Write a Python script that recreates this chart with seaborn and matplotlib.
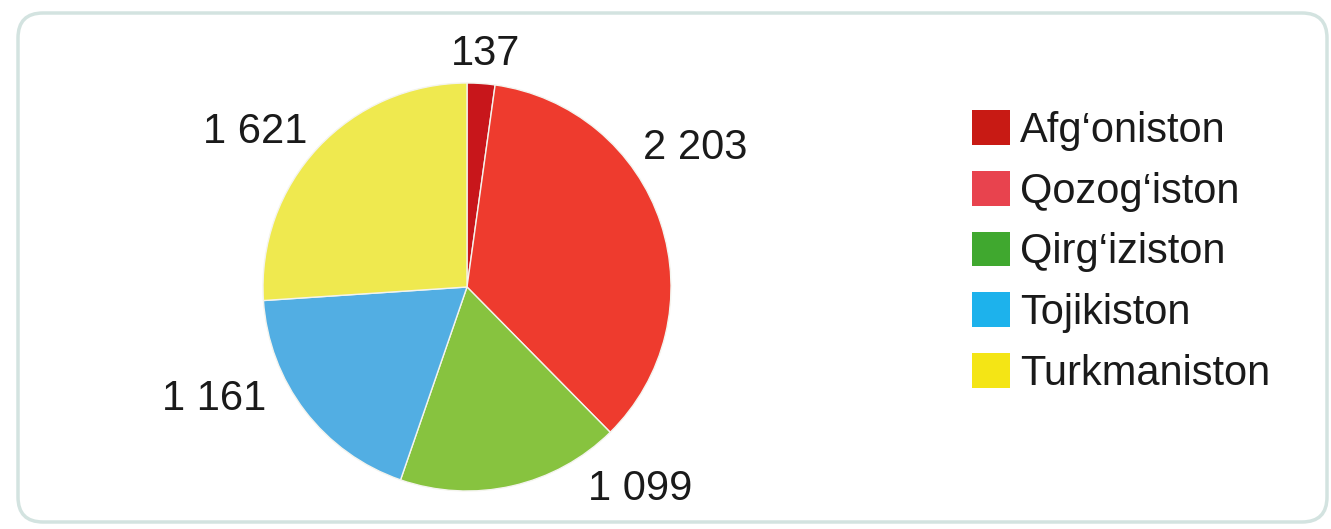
import matplotlib
matplotlib.use("Agg")
import matplotlib.pyplot as plt
import seaborn as sns
from matplotlib.patches import Patch, FancyBboxPatch

# dane wykresu
countries = ["Afg‘oniston", "Qozog‘iston", "Qirg‘iziston", "Tojikiston", "Turkmaniston"]
values = [137, 2203, 1099, 1161, 1621]

# kolory: wycinki i legenda (w oryginale lekko się różnią)
pie_colors = ["#C8161B", "#EE3B2E", "#87C33F", "#52AEE3", "#EFE94F"]
legend_colors = ["#C81A14", "#E8434E", "#40A82F", "#1DB2EC", "#F4E515"]

# położenie etykiet liczbowych (w jednostkach promienia)
label_xy = [(0.09, 1.14), (1.12, 0.68), (0.85, -0.99), (-1.24, -0.55), (-1.04, 0.76)]

sns.set_theme(style="white")
plt.rcParams["font.family"] = ["Liberation Sans", "DejaVu Sans"]

fig = plt.figure(figsize=(13.31, 5.29), dpi=100)

# ramka z zaokrąglonymi rogami (w calach)
frame = FancyBboxPatch((0.18, 0.07), 13.09, 5.09,
                       boxstyle="round,pad=0,rounding_size=0.25",
                       transform=fig.dpi_scale_trans, facecolor="white",
                       edgecolor="#d3e3e0", linewidth=2.5, zorder=-5)
fig.patches.append(frame)

cx, cy = 467 / 1331, 1 - 287 / 529
rw, rh = 204 / 1331, 204 / 529
ax = fig.add_axes([cx - rw, cy - rh, 2 * rw, 2 * rh])
ax.patch.set_alpha(0)

wedges, _ = ax.pie(values, colors=pie_colors, startangle=90, counterclock=False,
                   radius=1, wedgeprops=dict(edgecolor="#f4f4ee", linewidth=1))
ax.set_xlim(-1, 1)
ax.set_ylim(-1, 1)
ax.set_aspect("auto")

for v, (x, y) in zip(values, label_xy):
    ax.text(x, y, f"{v:,}".replace(",", " "), ha="center", va="center",
            fontsize=30, color="#1a1a1a")

handles = [Patch(facecolor=c, edgecolor="none") for c in legend_colors]
fig.legend(handles, countries, loc="upper left", bbox_to_anchor=(972 / 1331, 1 - 110 / 529),
           frameon=False, fontsize=30, handlelength=0.91, handleheight=0.91,
           handletextpad=0.25, labelspacing=0.48, borderpad=0, borderaxespad=0,
           labelcolor="#1a1a1a")

fig.savefig("out.png", dpi=100, facecolor="white")
